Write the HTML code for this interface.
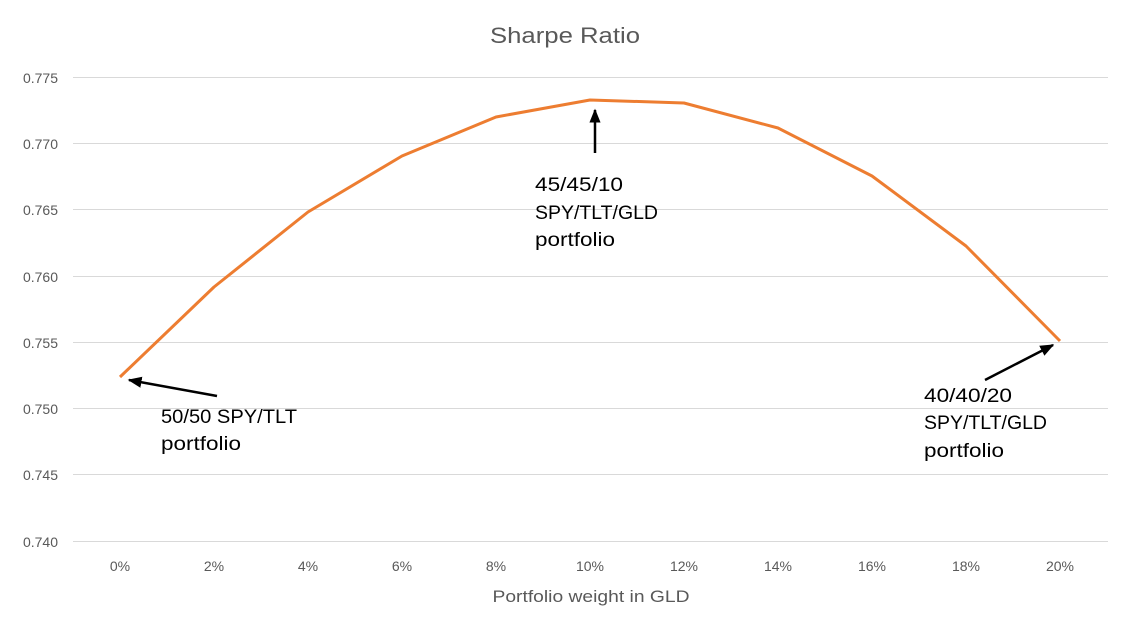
<!DOCTYPE html>
<html><head><meta charset="utf-8"><style>html,body{margin:0;padding:0;background:#fff}svg{display:block}</style></head>
<body>
<svg width="1131" height="634" xmlns="http://www.w3.org/2000/svg" font-family="'Liberation Sans', sans-serif">
<rect width="1131" height="634" fill="#fff"/>
<text x="565" y="43" font-size="22" fill="#595959" text-anchor="middle" textLength="150" lengthAdjust="spacingAndGlyphs">Sharpe Ratio</text>
<g stroke="#d9d9d9" stroke-width="1">
<line x1="73" y1="77.5" x2="1108" y2="77.5"/>
<line x1="73" y1="143.5" x2="1108" y2="143.5"/>
<line x1="73" y1="209.5" x2="1108" y2="209.5"/>
<line x1="73" y1="276.5" x2="1108" y2="276.5"/>
<line x1="73" y1="342.5" x2="1108" y2="342.5"/>
<line x1="73" y1="408.5" x2="1108" y2="408.5"/>
<line x1="73" y1="474.5" x2="1108" y2="474.5"/>
<line x1="73" y1="541.5" x2="1108" y2="541.5"/>
</g>
<g font-size="14" fill="#595959" text-anchor="end">
<text x="58" y="83">0.775</text>
<text x="58" y="149">0.770</text>
<text x="58" y="215">0.765</text>
<text x="58" y="282">0.760</text>
<text x="58" y="348">0.755</text>
<text x="58" y="414">0.750</text>
<text x="58" y="480">0.745</text>
<text x="58" y="547">0.740</text>
</g>
<g font-size="14" fill="#595959" text-anchor="middle">
<text x="120" y="571">0%</text>
<text x="214" y="571">2%</text>
<text x="308" y="571">4%</text>
<text x="402" y="571">6%</text>
<text x="496" y="571">8%</text>
<text x="590" y="571">10%</text>
<text x="684" y="571">12%</text>
<text x="778" y="571">14%</text>
<text x="872" y="571">16%</text>
<text x="966" y="571">18%</text>
<text x="1060" y="571">20%</text>
</g>
<text x="591" y="602" font-size="17" fill="#595959" text-anchor="middle" textLength="197" lengthAdjust="spacingAndGlyphs">Portfolio weight in GLD</text>
<polyline fill="none" stroke="#ed7d31" stroke-width="3" stroke-linejoin="round" points="120,377 214,287 308,212 402,156 496,117 590,100 684,103 778,128 872,176 966,246 1060,341"/>
<defs><marker id="a" markerWidth="8" markerHeight="8" refX="6" refY="4" orient="auto" markerUnits="userSpaceOnUse"><path d="M0,0 L8,4 L0,8 z" fill="#000"/></marker>
<marker id="b" viewBox="0 0 10 10" markerWidth="14" markerHeight="14" refX="9" refY="5" orient="auto" markerUnits="userSpaceOnUse"><path d="M0,1 L10,5 L0,9 z" fill="#000"/></marker></defs>
<g stroke="#000" stroke-width="2.5" fill="none">
<line x1="217" y1="396" x2="129" y2="380" marker-end="url(#b)"/>
<line x1="595" y1="153" x2="595" y2="110" marker-end="url(#b)"/>
<line x1="985" y1="380" x2="1053" y2="345" marker-end="url(#b)"/>
</g>
<g font-size="19" fill="#000">
<text x="161" y="423" textLength="136" lengthAdjust="spacingAndGlyphs">50/50 SPY/TLT</text>
<text x="161" y="450" textLength="80" lengthAdjust="spacingAndGlyphs">portfolio</text>
<text x="535" y="191" textLength="88" lengthAdjust="spacingAndGlyphs">45/45/10</text>
<text x="535" y="219" textLength="123" lengthAdjust="spacingAndGlyphs">SPY/TLT/GLD</text>
<text x="535" y="246" textLength="80" lengthAdjust="spacingAndGlyphs">portfolio</text>
<text x="924" y="402" textLength="88" lengthAdjust="spacingAndGlyphs">40/40/20</text>
<text x="924" y="429" textLength="123" lengthAdjust="spacingAndGlyphs">SPY/TLT/GLD</text>
<text x="924" y="457" textLength="80" lengthAdjust="spacingAndGlyphs">portfolio</text>
</g>
</svg>
</body></html>
